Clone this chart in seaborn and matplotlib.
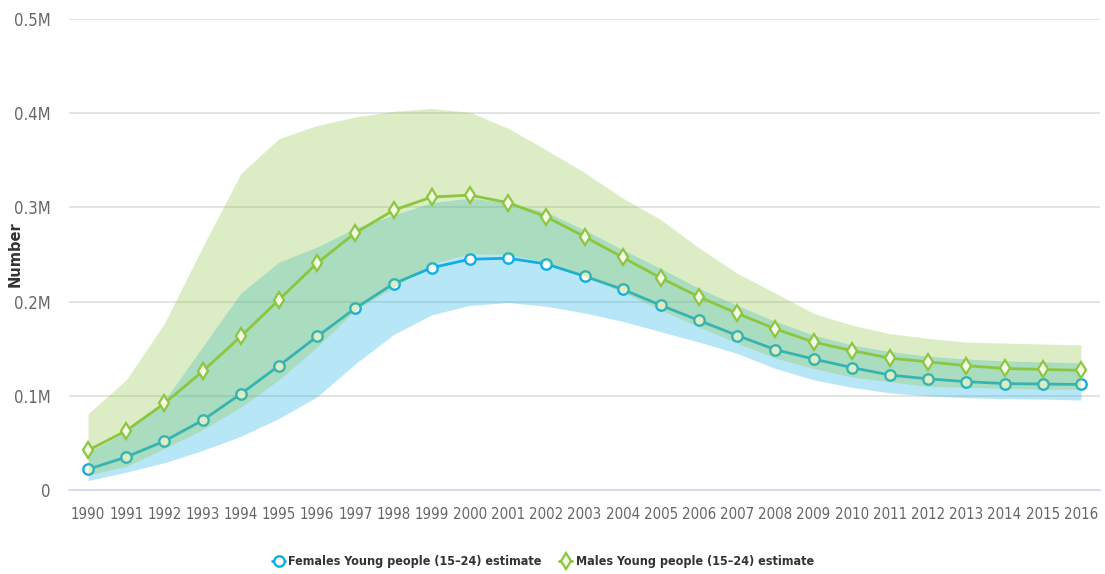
import matplotlib
matplotlib.use("Agg")
import matplotlib.pyplot as plt
import seaborn as sns
import numpy as np
import pandas as pd
from matplotlib.lines import Line2D
from matplotlib import font_manager

years = list(range(1990, 2017))

female_est = [0.022, 0.035, 0.052, 0.074, 0.102, 0.132, 0.163, 0.193, 0.219, 0.236,
              0.245, 0.246, 0.240, 0.227, 0.213, 0.196, 0.180, 0.164, 0.149, 0.139,
              0.130, 0.122, 0.118, 0.115, 0.113, 0.1125, 0.112]
female_low = [0.010, 0.019, 0.029, 0.042, 0.057, 0.076, 0.099, 0.134, 0.165, 0.186,
              0.196, 0.199, 0.195, 0.188, 0.179, 0.168, 0.157, 0.145, 0.129, 0.117,
              0.109, 0.103, 0.100, 0.098, 0.097, 0.0965, 0.0955]
female_high = [0.040, 0.062, 0.095, 0.152, 0.209, 0.242, 0.258, 0.278, 0.292, 0.305,
               0.310, 0.305, 0.295, 0.276, 0.255, 0.235, 0.214, 0.196, 0.179, 0.1645,
               0.154, 0.147, 0.142, 0.139, 0.137, 0.136, 0.135]

male_est = [0.042, 0.063, 0.092, 0.126, 0.163, 0.202, 0.241, 0.273, 0.297, 0.311,
            0.313, 0.305, 0.290, 0.269, 0.247, 0.225, 0.205, 0.1875, 0.171, 0.157,
            0.148, 0.140, 0.136, 0.132, 0.129, 0.128, 0.127]
male_low = [0.016, 0.025, 0.044, 0.064, 0.088, 0.117, 0.152, 0.191, 0.215, 0.240,
            0.251, 0.250, 0.242, 0.227, 0.210, 0.191, 0.173, 0.156, 0.140, 0.129,
            0.120, 0.115, 0.110, 0.109, 0.108, 0.107, 0.107]
male_high = [0.081, 0.117, 0.177, 0.258, 0.336, 0.373, 0.387, 0.396, 0.402, 0.405,
             0.401, 0.384, 0.361, 0.337, 0.310, 0.287, 0.257, 0.230, 0.209, 0.1875,
             0.175, 0.166, 0.161, 0.157, 0.156, 0.155, 0.154]

y_ticks = [0, 0.1, 0.2, 0.3, 0.4, 0.5]
y_tick_labels = ["0", "0.1M", "0.2M", "0.3M", "0.4M", "0.5M"]
series_names = ["Females Young people (15\u201324) estimate",
                "Males Young people (15\u201324) estimate"]

BLUE = "#12ade6"
GREEN = "#8cc63f"

sns.set_theme(style="white")

# find a narrow / condensed font if one is installed
narrow_path = None
narrow_bold_path = None
for f in font_manager.fontManager.ttflist:
    nm = f.name.lower()
    fn = f.fname.lower()
    if ("narrow" in nm or "condensed" in nm or "condensed" in fn or "narrow" in fn) \
            and "oblique" not in fn and "italic" not in fn:
        if f.weight in ("bold", 700) or "bold" in fn:
            if narrow_bold_path is None:
                narrow_bold_path = f.fname
        else:
            if narrow_path is None:
                narrow_path = f.fname

plt.rcParams["font.family"] = ["DejaVu Sans"]

if narrow_path:
    xtick_fp = font_manager.FontProperties(fname=narrow_path, size=10.8)
    ytick_fp = font_manager.FontProperties(fname=narrow_path, size=12)
else:
    xtick_fp = font_manager.FontProperties(family="DejaVu Sans", size=9.5)
    ytick_fp = font_manager.FontProperties(family="DejaVu Sans", size=10.5)
if narrow_bold_path:
    leg_fp = font_manager.FontProperties(fname=narrow_bold_path, size=9)
elif narrow_path:
    leg_fp = font_manager.FontProperties(fname=narrow_path, size=9, weight="bold")
else:
    leg_fp = font_manager.FontProperties(family="DejaVu Sans", size=8, weight="bold")

fig = plt.figure(figsize=(11.05, 5.74), dpi=100)
ax = fig.add_axes([69 / 1105, 1 - 490 / 574, (1100 - 69) / 1105, (490 - 19) / 574])

x = np.arange(len(years))
df = pd.DataFrame({"x": np.concatenate([x, x]),
                   "value": female_est + male_est,
                   "series": [series_names[0]] * len(x) + [series_names[1]] * len(x)})

for t in y_ticks[1:]:
    ax.axhline(t, color="#dcdcdc", lw=1.1, zorder=0)

ax.fill_between(x, female_low, female_high, color=BLUE, alpha=0.3, lw=0, zorder=1)
sns.lineplot(data=df[df.series == series_names[0]], x="x", y="value", ax=ax,
             color=BLUE, lw=2, marker="o", markersize=7.5, markerfacecolor="white",
             markeredgecolor=BLUE, markeredgewidth=1.7, zorder=2, legend=False)
ax.fill_between(x, male_low, male_high, color=GREEN, alpha=0.3, lw=0, zorder=3)
sns.lineplot(data=df[df.series == series_names[1]], x="x", y="value", ax=ax,
             color=GREEN, lw=2, marker="d", markersize=8.5, markerfacecolor="#f4f9e8",
             markeredgecolor=GREEN, markeredgewidth=1.6, zorder=4, legend=False)

ax.set_xlim(-0.5, len(years) - 0.5)
ax.set_ylim(0, 0.5)
ax.set_yticks(y_ticks)
ax.set_yticklabels(y_tick_labels, fontproperties=ytick_fp, color="#666666")
ax.set_xticks(x)
ax.set_xticklabels([str(y) for y in years], fontproperties=xtick_fp, color="#666666")
ax.set_xticks(np.arange(-0.5, len(years), 1.0), minor=True)
ax.tick_params(axis="x", which="major", length=0, pad=12)
ax.tick_params(axis="x", which="minor", length=10, width=1, color="#ccd6eb", direction="out")
ax.tick_params(axis="y", length=0, pad=13)

for s in ["top", "right", "left"]:
    ax.spines[s].set_visible(False)
ax.spines["bottom"].set_color("#ccd6eb")
ax.spines["bottom"].set_linewidth(1.2)

ax.set_xlabel("")
ax.set_ylabel("")
fig.text(15 / 1105, 1 - 254 / 574, "Number", rotation=90, ha="center", va="center",
         fontsize=10.5, fontweight="bold", color="#333333", family=["DejaVu Sans"])

handles = [
    Line2D([0], [0], color=BLUE, lw=2, marker="o", markersize=7.5, markerfacecolor="white",
           markeredgecolor=BLUE, markeredgewidth=1.7),
    Line2D([0], [0], color=GREEN, lw=2, marker="d", markersize=8.5, markerfacecolor="#f4f9e8",
           markeredgecolor=GREEN, markeredgewidth=1.6),
]
leg = fig.legend(handles, series_names, loc="center", bbox_to_anchor=(543 / 1105, 1 - 562 / 574),
                 ncol=2, frameon=False, handlelength=1.0, handletextpad=0.3, columnspacing=1.4,
                 prop=leg_fp)
for t in leg.get_texts():
    t.set_color("#333333")

fig.savefig("out.png", dpi=100)
